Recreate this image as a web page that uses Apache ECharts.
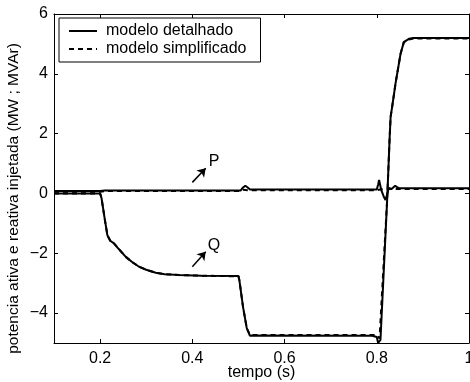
<!DOCTYPE html>
<html>
<head>
<meta charset="utf-8">
<script src="https://cdn.jsdelivr.net/npm/echarts@6/dist/echarts.min.js"></script>
<style>html,body{margin:0;padding:0;background:#fff}#c{width:470px;height:382px}</style>
</head>
<body>
<div id="c"></div>
<script>
// time (s) and values
var tP = [0.1, 0.2, 0.21, 0.5, 0.505, 0.51, 0.515, 0.52, 0.525, 0.8, 0.803, 0.805, 0.81, 0.815, 0.819, 0.823, 0.826, 0.832, 0.84, 0.845, 0.85, 1.0];
var pDet = [0.08, 0.08, 0.1, 0.1, 0.1, 0.2, 0.26, 0.2, 0.13, 0.13, 0.3, 0.45, 0.1, -0.1, -0.22, 0.0, 0.18, 0.15, 0.26, 0.2, 0.17, 0.17];
var tQ = [0.1, 0.2, 0.203, 0.206, 0.21, 0.2158, 0.222, 0.23, 0.24, 0.2557, 0.27, 0.2845, 0.30, 0.3207, 0.34, 0.371, 0.42, 0.50, 0.502, 0.51, 0.518, 0.525, 0.53, 0.79, 0.80, 0.803, 0.806, 0.808, 0.8225, 0.828, 0.83, 0.8334, 0.8407, 0.8516, 0.8587, 0.8696, 0.88, 1.0];
var qDet = [0, 0, -0.15, -0.45, -0.85, -1.4, -1.58, -1.67, -1.85, -2.12, -2.3, -2.45, -2.55, -2.65, -2.7, -2.73, -2.75, -2.76, -2.9, -3.8, -4.5, -4.76, -4.75, -4.76, -4.8, -5.0, -5.0, -4.9, -0.22, 1.9, 2.56, 2.9, 3.68, 4.67, 5.06, 5.17, 5.2, 5.2];
var tPs = [0.1, 0.2, 0.21, 0.5, 0.51, 0.52, 0.8, 0.81, 0.82, 1.0];
var pSim = [0.06, 0.06, 0.08, 0.08, 0.12, 0.11, 0.11, 0.14, 0.15, 0.15];
var tQs = [0.1, 0.2, 0.203, 0.206, 0.21, 0.2158, 0.222, 0.23, 0.24, 0.2557, 0.27, 0.2845, 0.30, 0.3207, 0.34, 0.371, 0.42, 0.50, 0.502, 0.51, 0.518, 0.525, 0.53, 0.80, 0.806, 0.8225, 0.828, 0.83, 0.8334, 0.8407, 0.8516, 0.8587, 0.8696, 0.88, 1.0];
var qSim = [0, 0, -0.15, -0.45, -0.85, -1.4, -1.58, -1.67, -1.85, -2.12, -2.3, -2.45, -2.55, -2.65, -2.7, -2.73, -2.75, -2.77, -2.9, -3.8, -4.5, -4.73, -4.73, -4.73, -4.85, -0.2, 1.9, 2.56, 2.9, 3.68, 4.67, 5.06, 5.15, 5.18, 5.18];
var xTicks = [0.2, 0.4, 0.6, 0.8, 1.0];
var yTicks = [-4, -2, 0, 2, 4, 6];
var legendNames = ['modelo detalhado', 'modelo simplificado'];
var annoP = {label: 'P', from: [0.4, 0.37], to: [0.429, 0.84], text: [0.447, 1.05]};
var annoQ = {label: 'Q', from: [0.4, -2.45], to: [0.429, -1.95], text: [0.447, -1.73]};

function zip(a, b) { return a.map(function (v, i) { return [v, b[i]]; }); }
var FONT = 'Liberation Sans, Arial, Helvetica, sans-serif';
var FS = 16;
function fmt(v) { var s = String(Math.round(v * 10) / 10); return s.replace('-', '\u2212'); }

var chart = echarts.init(document.getElementById('c'), null, {renderer: 'canvas'});
function xAx(pos, showLabel) {
  return {
    type: 'value', position: pos, min: 0.1, max: 1.0, show: true,
    name: showLabel ? 'tempo (s)' : '', nameLocation: 'middle', nameGap: 22, nameMoveOverlap: false,
    nameTextStyle: {color: '#000', fontSize: FS, fontFamily: FONT},
    axisLine: {show: true, onZero: false, lineStyle: {color: '#000', width: 1}},
    splitLine: {show: false},
    axisTick: {show: true, inside: true, length: 4, lineStyle: {color: '#000'}, customValues: xTicks},
    axisLabel: {show: showLabel, color: '#000', fontSize: FS, fontFamily: FONT, margin: 8, customValues: xTicks, formatter: fmt}
  };
}
function yAx(pos, showLabel) {
  return {
    type: 'value', position: pos, min: -5, max: 6, show: true,
    name: showLabel ? 'potencia ativa e reativa injetada (MW ; MVAr)' : '', nameLocation: 'middle', nameGap: 32, nameMoveOverlap: false,
    nameTextStyle: {color: '#000', fontSize: 15.5, fontFamily: FONT, padding: [0, 40, 0, 0]},
    axisLine: {show: true, onZero: false, lineStyle: {color: '#000', width: 1}},
    splitLine: {show: false},
    axisTick: {show: true, inside: true, length: 4, lineStyle: {color: '#000'}, customValues: yTicks},
    axisLabel: {show: showLabel, color: '#000', fontSize: FS, fontFamily: FONT, margin: 6, customValues: yTicks, formatter: fmt}
  };
}
function line(name, data, dashed) {
  return {
    name: name, type: 'line', data: data, symbol: 'none', xAxisIndex: 0, yAxisIndex: 0,
    lineStyle: {color: '#000', width: 2, type: dashed ? [5, 4] : 'solid'},
    itemStyle: {color: '#000'}, animation: false, z: dashed ? 2 : 3
  };
}
var sP = line(legendNames[0], zip(tP, pDet), false);
sP.markLine = {
  silent: true, symbol: ['none', 'arrow'], symbolSize: 8, animation: false,
  lineStyle: {color: '#000', width: 1.5, type: 'solid'}, label: {show: false},
  data: [
    [{coord: annoP.from}, {coord: annoP.to}],
    [{coord: annoQ.from}, {coord: annoQ.to}]
  ]
};
sP.markPoint = {
  symbol: 'circle', symbolSize: 0, animation: false,
  label: {show: true, formatter: '{b}', color: '#000', fontSize: FS, fontFamily: FONT, position: 'inside'},
  data: [
    {name: annoP.label, coord: annoP.text},
    {name: annoQ.label, coord: annoQ.text}
  ]
};
chart.setOption({
  animation: false,
  backgroundColor: '#fff',
  grid: {left: 54, top: 14, right: 1, bottom: 39, containLabel: false, outerBoundsMode: 'none'},
  legend: {
    data: legendNames,
    orient: 'vertical', left: 59, top: 18, itemWidth: 28, itemHeight: 14, itemGap: 2,
    padding: [5, 14, 5, 9],
    itemStyle: {opacity: 0},
    backgroundColor: '#fff', borderColor: '#000', borderWidth: 1,
    textStyle: {color: '#000', fontSize: FS, fontFamily: FONT, padding: [0, 0, 0, 4]},
    selectedMode: false
  },
  xAxis: [xAx('bottom', true), xAx('top', false)],
  yAxis: [yAx('left', true), yAx('right', false)],
  series: [
    sP,
    line(legendNames[0], zip(tQ, qDet), false),
    line(legendNames[1], zip(tPs, pSim), true),
    line(legendNames[1], zip(tQs, qSim), true)
  ]
});
</script>
</body>
</html>
